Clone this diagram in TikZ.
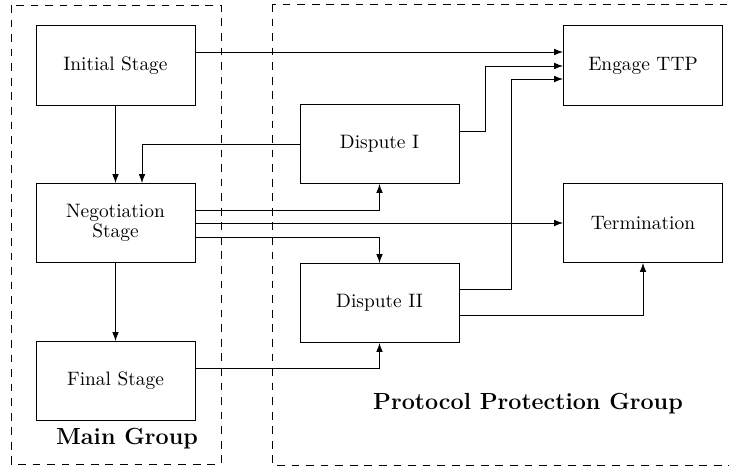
\documentclass[tikz,border=0pt]{standalone}
\usetikzlibrary{arrows.meta}
\begin{document}
\begin{tikzpicture}[x=0.515pt, y=-0.515pt,
  stagebox/.style={draw, line width=0.5pt, minimum width=81.9pt, minimum height=40.7pt,
                   inner sep=0pt, align=center, font=\normalsize},
  groupbox/.style={draw, line width=0.45pt, dash pattern=on 4pt off 3.5pt},
  arr/.style={line width=0.4pt, -{Latex[length=4.6pt, width=3.4pt]}},
  grouplabel/.style={font=\large\bfseries}]
  \useasboundingbox (0,0) rectangle (729,469);
  \clip (0,0) rectangle (729,469);

  % group frames
  \draw[groupbox] (11,5) rectangle (221,464);
  \draw[groupbox] (272,4) rectangle (745,465);

  % stages
  \node[stagebox] (init)  at (115.5,65.5) {Initial Stage};
  \node[stagebox] (neg)   at (115.5,223)  {Negotiation\\[-1.7pt]Stage};
  \node[stagebox] (final) at (115.5,381)  {Final Stage};
  \node[stagebox] (d1)    at (379.5,144)  {Dispute I};
  \node[stagebox] (d2)    at (379.5,303)  {Dispute II};
  \node[stagebox] (ttp)   at (643,65.5)   {Engage TTP};
  \node[stagebox] (term)  at (643,223)    {Termination};

  % group titles
  \node[grouplabel] (mainlbl) at (127,439) {Main Group};
  \node[grouplabel] (protlbl) at (528,404) {Protocol Protection Group};

  % connectors
  \draw[arr] (init.east |- 0,52) -- (ttp.west |- 0,52);
  \draw[arr] (d1.east |- 0,131) -| (485,66) -- (ttp.west |- 0,66);
  \draw[arr] (d2.east |- 0,289) -| (511,79) -- (ttp.west |- 0,79);
  \draw[arr] (init.south) -- (neg.north);
  \draw[arr] (d1.west) -| (neg.north -| 142,0);
  \draw[arr] (neg.east |- 0,210) -| (d1.south);
  \draw[arr] (neg.east) -- (term.west);
  \draw[arr] (neg.east |- 0,237) -| (d2.north);
  \draw[arr] (neg.south) -- (final.north);
  \draw[arr] (final.east |- 0,368) -| (d2.south);
  \draw[arr] (d2.east |- 0,315) -| (term.south);
\end{tikzpicture}
\end{document}
